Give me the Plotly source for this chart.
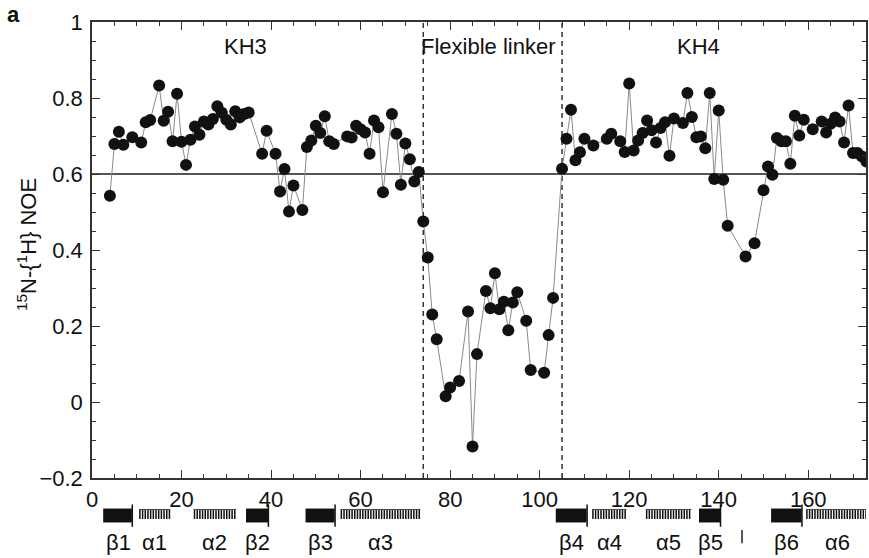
import numpy as np
import plotly.graph_objects as go

# Heteronuclear NOE per residue
residue = [4, 5, 6, 7, 9, 11, 12, 13, 15, 16, 17, 18, 19, 20, 21, 22, 23, 24, 25, 26,
           27, 28, 29, 30, 31, 32, 33, 34, 35, 38, 39, 41, 42, 43, 44, 45, 47, 48, 49, 50,
           51, 52, 53, 54, 57, 58, 59, 60, 61, 62, 63, 64, 65, 67, 68, 69, 70, 71, 72, 73,
           74, 75, 76, 77, 79, 80, 82, 84, 85, 86, 88, 89, 90, 91, 92, 93, 94, 95, 97, 98,
           101, 102, 103, 105, 106, 107, 108, 109, 110, 112, 115, 116, 118, 119, 120, 121, 122, 123, 124, 125,
           126, 127, 128, 129, 130, 132, 133, 134, 135, 136, 137, 138, 139, 140, 141, 142, 146, 148, 150, 151,
           152, 153, 154, 155, 156, 157, 158, 159, 161, 163, 164, 165, 166, 167, 168, 169, 170, 171, 172, 173]
noe = [0.543, 0.679, 0.711, 0.677, 0.697, 0.683, 0.736, 0.742, 0.833, 0.740, 0.764, 0.686, 0.811, 0.685, 0.624, 0.690, 0.725, 0.703, 0.738, 0.730,
       0.745, 0.778, 0.761, 0.743, 0.730, 0.765, 0.749, 0.758, 0.762, 0.653, 0.714, 0.653, 0.554, 0.613, 0.501, 0.570, 0.505, 0.671, 0.688, 0.727,
       0.708, 0.752, 0.686, 0.679, 0.699, 0.696, 0.727, 0.718, 0.709, 0.653, 0.741, 0.723, 0.552, 0.758, 0.706, 0.572, 0.680, 0.639, 0.580, 0.605,
       0.475, 0.380, 0.230, 0.165, 0.015, 0.038, 0.055, 0.238, -0.117, 0.126, 0.292, 0.247, 0.339, 0.244, 0.264, 0.189, 0.262, 0.289, 0.214, 0.084,
       0.077, 0.176, 0.274, 0.614, 0.693, 0.769, 0.636, 0.657, 0.693, 0.675, 0.693, 0.706, 0.686, 0.658, 0.838, 0.662, 0.688, 0.708, 0.741, 0.715,
       0.683, 0.721, 0.736, 0.648, 0.746, 0.734, 0.813, 0.750, 0.697, 0.699, 0.668, 0.813, 0.587, 0.767, 0.585, 0.464, 0.383, 0.418, 0.557, 0.620,
       0.598, 0.695, 0.686, 0.686, 0.627, 0.753, 0.701, 0.743, 0.718, 0.738, 0.709, 0.732, 0.749, 0.738, 0.683, 0.780, 0.655, 0.655, 0.646, 0.633]

# Axis ticks
x_ticks = [0, 20, 40, 60, 80, 100, 120, 140, 160]
y_ticks = [-0.2, 0, 0.2, 0.4, 0.6, 0.8, 1]
y_tick_text = ["\u22120.2", "0", "0.2", "0.4", "0.6", "0.8", "1"]

# NOE threshold and domain boundaries
threshold = 0.6
linker_bounds = [74, 105]
region_names = ["KH3", "Flexible linker", "KH4"]
region_centers = [34.3, 88.6, 135.4]

# Secondary structure elements (residue ranges)
ss_labels = ["β1", "α1", "α2", "β2", "β3", "α3", "β4", "α4", "α5", "β5", "β6", "α6"]
ss_kind = ["strand", "helix", "helix", "strand", "strand", "helix",
           "strand", "helix", "helix", "strand", "strand", "helix"]
ss_start = [2.5, 10.5, 22.7, 34.4, 47.7, 55.5, 103.6, 111.7, 123.7, 135.6, 151.7, 159.5]
ss_end = [9.2, 17.5, 32.2, 39.6, 54.5, 73.4, 110.8, 119.4, 133.9, 140.6, 158.8, 173.7]

FONT = "Liberation Sans, Arial, Helvetica, sans-serif"
X_MAX = 172.9

fig = go.Figure()
fig.add_trace(go.Scatter(
    x=residue, y=noe, mode="lines+markers",
    line=dict(color="#8a8a8a", width=1),
    marker=dict(color="#111111", size=12, line=dict(width=0)),
    showlegend=False, cliponaxis=True,
))

shapes = []
# horizontal reference at NOE = 0.6
shapes.append(dict(type="line", xref="paper", yref="y", x0=0, x1=1, y0=threshold, y1=threshold,
                   line=dict(color="#555555", width=2), layer="below"))
# dashed linker boundaries
for b in linker_bounds:
    shapes.append(dict(type="line", xref="x", yref="paper", x0=b, x1=b, y0=0, y1=1,
                       line=dict(color="#333333", width=1.5, dash="5px,4px"), layer="below"))

# secondary structure track below the axis
strand_y0, strand_y1 = -0.0975, -0.067
head_y0, head_y1 = -0.107, -0.058
helix_y0, helix_y1 = -0.090, -0.069
annotations = []
for lab, kind, s, e in zip(ss_labels, ss_kind, ss_start, ss_end):
    if kind == "strand":
        shapes.append(dict(type="rect", xref="x", yref="paper", x0=s, x1=e - 0.3,
                           y0=strand_y0, y1=strand_y1, fillcolor="#111111", line=dict(width=0)))
        shapes.append(dict(type="line", xref="x", yref="paper", x0=e - 0.2, x1=e - 0.2,
                           y0=head_y0, y1=head_y1, line=dict(color="#111111", width=1.5)))
    else:
        stripes = np.arange(s + 0.2, e, 0.6)
        path = " ".join(f"M{v:.2f},{helix_y0} L{v:.2f},{helix_y1}" for v in stripes)
        shapes.append(dict(type="path", xref="x", yref="paper", path=path,
                           line=dict(color="#111111", width=1.5)))
        shapes.append(dict(type="line", xref="x", yref="paper", x0=s, x1=e,
                           y0=helix_y1, y1=helix_y1, line=dict(color="#444444", width=1)))
    annotations.append(dict(x=(s + e) / 2, y=-0.1425, xref="x", yref="paper", text=lab,
                            showarrow=False, xanchor="center", yanchor="middle",
                            font=dict(family=FONT, size=22, color="#111111")))

# small mark below the track
shapes.append(dict(type="line", xref="x", yref="paper", x0=145.2, x1=145.2, y0=-0.143, y1=-0.114,
                   line=dict(color="#222222", width=1.5)))

for name, cx in zip(region_names, region_centers):
    annotations.append(dict(x=cx, y=0.935, xref="x", yref="y", text=name, showarrow=False,
                            xanchor="center", yanchor="middle",
                            font=dict(family=FONT, size=22, color="#111111")))

# panel letter
annotations.append(dict(x=-0.102, y=1.046, xref="paper", yref="paper", text="<b>a</b>",
                        showarrow=False, xanchor="center", yanchor="top", borderpad=0,
                        font=dict(family=FONT, size=22, color="#111111")))
# y-axis title
annotations.append(dict(x=-0.0838, y=0.511, xref="paper", yref="paper",
                        text="<sup>15</sup>N-{<sup>1</sup>H} NOE", textangle=-90,
                        showarrow=False, xanchor="center", yanchor="middle",
                        font=dict(family=FONT, size=22, color="#111111")))

axis_common = dict(showgrid=False, zeroline=False, showline=True, linecolor="#333333",
                   linewidth=1.5, ticks="inside", ticklen=8, tickwidth=1.3, tickcolor="#333333",
                   mirror="ticks", tickfont=dict(family=FONT, size=22, color="#111111"))

fig.update_layout(
    width=869, height=558,
    margin=dict(l=92, r=1, t=22, b=80),
    paper_bgcolor="white", plot_bgcolor="white",
    xaxis=dict(range=[0, X_MAX], tickvals=x_ticks, ticktext=[str(v) for v in x_ticks],
               minor=dict(dtick=5, tick0=0, ticks="inside", ticklen=4, tickcolor="#333333", tickwidth=1.2),
               ticklabelstandoff=1, **axis_common),
    yaxis=dict(range=[-0.2, 1.0], tickvals=y_ticks, ticktext=y_tick_text,
               minor=dict(dtick=0.05, tick0=0, ticks="inside", ticklen=4, tickcolor="#333333", tickwidth=1.2),
               ticklabelstandoff=3, **axis_common),
    shapes=shapes, annotations=annotations,
)

fig.write_html("out.html")
